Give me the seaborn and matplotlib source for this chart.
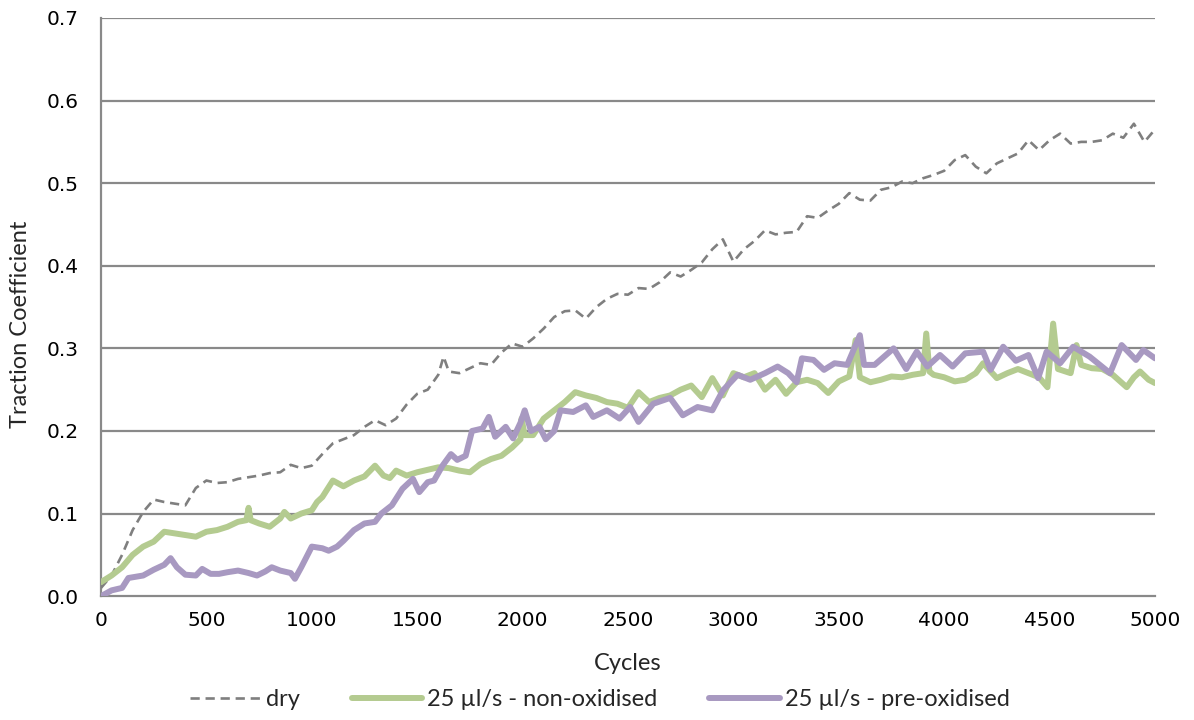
import matplotlib
matplotlib.use("Agg")
import matplotlib.pyplot as plt
from matplotlib.ticker import FormatStrFormatter, MultipleLocator
import pandas as pd
import seaborn as sns

# Traction coefficient vs. cycles for three rail-wheel test conditions
dry_cycles = [0, 50, 100, 150, 200, 250, 300, 350, 400, 450, 500, 550, 600, 650, 700,
              750, 800, 850, 900, 950, 1000, 1050, 1100, 1150, 1200, 1250, 1300, 1350,
              1400, 1450, 1500, 1550, 1600, 1625, 1650, 1700, 1750, 1800, 1850, 1900,
              1950, 2000, 2050, 2100, 2150, 2200, 2250, 2300, 2350, 2400, 2450, 2500,
              2550, 2600, 2650, 2700, 2750, 2800, 2850, 2900, 2950, 3000, 3050, 3100,
              3150, 3200, 3250, 3300, 3350, 3400, 3450, 3500, 3550, 3600, 3650, 3700,
              3750, 3800, 3850, 3900, 3950, 4000, 4050, 4100, 4150, 4200, 4250, 4300,
              4350, 4400, 4450, 4500, 4550, 4600, 4650, 4700, 4750, 4800, 4850, 4900,
              4950, 5000]
dry_tc = [0.010, 0.025, 0.050, 0.080, 0.102, 0.117, 0.114, 0.112, 0.110, 0.131, 0.140,
          0.137, 0.138, 0.142, 0.144, 0.146, 0.149, 0.150, 0.159, 0.155, 0.158, 0.172,
          0.185, 0.190, 0.195, 0.205, 0.213, 0.207, 0.215, 0.232, 0.245, 0.250, 0.268,
          0.290, 0.272, 0.270, 0.276, 0.282, 0.280, 0.295, 0.306, 0.302, 0.312, 0.324,
          0.338, 0.345, 0.346, 0.336, 0.350, 0.360, 0.366, 0.365, 0.373, 0.372, 0.380,
          0.392, 0.387, 0.395, 0.404, 0.420, 0.432, 0.405, 0.420, 0.430, 0.443, 0.438,
          0.440, 0.441, 0.460, 0.458, 0.467, 0.475, 0.488, 0.480, 0.479, 0.492, 0.495,
          0.502, 0.500, 0.506, 0.510, 0.515, 0.528, 0.534, 0.520, 0.512, 0.524, 0.530,
          0.536, 0.552, 0.540, 0.552, 0.560, 0.548, 0.550, 0.550, 0.552, 0.560, 0.555,
          0.572, 0.550, 0.565]

nonox_cycles = [0, 50, 100, 150, 200, 250, 300, 350, 400, 450, 500, 550, 600, 650, 690,
                700, 710, 750, 800, 850, 870, 900, 950, 1000, 1025, 1050, 1100, 1150,
                1200, 1250, 1300, 1340, 1370, 1400, 1450, 1500, 1550, 1600, 1650, 1700,
                1750, 1800, 1850, 1900, 1950, 1990, 1995, 2010, 2050, 2100, 2150, 2200,
                2250, 2300, 2350, 2400, 2450, 2500, 2550, 2600, 2650, 2700, 2750, 2800,
                2850, 2900, 2950, 3000, 3050, 3100, 3150, 3200, 3250, 3300, 3350, 3400,
                3450, 3500, 3550, 3580, 3600, 3650, 3700, 3750, 3800, 3850, 3900, 3915,
                3930, 3950, 4000, 4050, 4100, 4150, 4185, 4250, 4300, 4350, 4400, 4450,
                4490, 4517, 4540, 4600, 4628, 4650, 4700, 4750, 4800, 4866, 4900, 4929,
                4970, 5000]
nonox_tc = [0.017, 0.025, 0.035, 0.050, 0.060, 0.066, 0.078, 0.076, 0.074, 0.072, 0.078,
            0.080, 0.084, 0.090, 0.092, 0.107, 0.092, 0.088, 0.084, 0.094, 0.102, 0.094,
            0.100, 0.104, 0.114, 0.120, 0.140, 0.133, 0.140, 0.145, 0.158, 0.146, 0.143,
            0.152, 0.146, 0.150, 0.153, 0.156, 0.155, 0.152, 0.150, 0.160, 0.166, 0.170,
            0.180, 0.190, 0.215, 0.195, 0.195, 0.215, 0.225, 0.235, 0.247, 0.243, 0.240,
            0.235, 0.233, 0.228, 0.247, 0.235, 0.240, 0.243, 0.250, 0.255, 0.241, 0.264,
            0.243, 0.270, 0.265, 0.270, 0.250, 0.262, 0.245, 0.259, 0.262, 0.258, 0.246,
            0.260, 0.266, 0.310, 0.265, 0.259, 0.262, 0.266, 0.265, 0.268, 0.270, 0.318,
            0.272, 0.268, 0.265, 0.260, 0.262, 0.270, 0.282, 0.264, 0.270, 0.275, 0.270,
            0.265, 0.253, 0.330, 0.275, 0.270, 0.304, 0.280, 0.276, 0.275, 0.268, 0.253,
            0.265, 0.272, 0.262, 0.258]

preox_cycles = [0, 50, 100, 130, 200, 250, 300, 330, 360, 400, 450, 480, 520, 560, 600,
                650, 700, 740, 780, 810, 850, 900, 920, 950, 980, 1000, 1050, 1080, 1120,
                1150, 1200, 1250, 1300, 1330, 1380, 1430, 1480, 1510, 1550, 1580, 1620,
                1660, 1690, 1730, 1760, 1810, 1840, 1870, 1920, 1955, 1990, 2010, 2040,
                2080, 2110, 2150, 2180, 2240, 2300, 2335, 2400, 2460, 2510, 2550, 2620,
                2700, 2760, 2830, 2900, 2950, 3020, 3080, 3150, 3210, 3260, 3300, 3325,
                3380, 3430, 3480, 3540, 3600, 3620, 3670, 3760, 3820, 3870, 3920, 3980,
                4040, 4100, 4185, 4220, 4280, 4340, 4400, 4446, 4486, 4550, 4612, 4690,
                4787, 4842, 4910, 4945, 5000]
preox_tc = [0.000, 0.007, 0.010, 0.022, 0.025, 0.032, 0.038, 0.046, 0.035, 0.026, 0.025,
            0.033, 0.027, 0.027, 0.029, 0.031, 0.028, 0.025, 0.030, 0.035, 0.031, 0.028,
            0.021, 0.035, 0.050, 0.060, 0.058, 0.055, 0.060, 0.067, 0.080, 0.088, 0.090,
            0.100, 0.110, 0.130, 0.142, 0.126, 0.138, 0.140, 0.158, 0.172, 0.165, 0.170,
            0.200, 0.203, 0.217, 0.193, 0.205, 0.191, 0.210, 0.225, 0.200, 0.205, 0.190,
            0.200, 0.225, 0.223, 0.231, 0.217, 0.225, 0.215, 0.229, 0.211, 0.233, 0.240,
            0.219, 0.229, 0.225, 0.249, 0.268, 0.262, 0.270, 0.278, 0.270, 0.259, 0.288,
            0.286, 0.274, 0.282, 0.280, 0.316, 0.280, 0.280, 0.300, 0.275, 0.296, 0.278,
            0.292, 0.278, 0.294, 0.296, 0.274, 0.302, 0.285, 0.292, 0.264, 0.296, 0.282,
            0.302, 0.290, 0.270, 0.304, 0.286, 0.298, 0.288]

labels = ["dry", "25 µl/s - non-oxidised", "25 µl/s - pre-oxidised"]

df_dry = pd.DataFrame({"Cycles": dry_cycles, "Traction Coefficient": dry_tc})
df_non = pd.DataFrame({"Cycles": nonox_cycles, "Traction Coefficient": nonox_tc})
df_pre = pd.DataFrame({"Cycles": preox_cycles, "Traction Coefficient": preox_tc})

sns.set_theme(style="white")
plt.rcParams["font.family"] = ["DejaVu Sans"]

fig = plt.figure(figsize=(11.94, 7.2), dpi=100)
ax = fig.add_axes([0.0846, 0.172, 0.8827, 0.803])

grid_col = "#898989"
ax.set_axisbelow(True)
for v in [0.1, 0.2, 0.3, 0.4, 0.5, 0.6, 0.7]:
    ax.axhline(v, color=grid_col, lw=1.6, zorder=0)

sns.lineplot(data=df_dry, x="Cycles", y="Traction Coefficient", ax=ax,
             color="#7f7f7f", lw=1.9, label=labels[0], dashes=False,
             linestyle=(0, (3.5, 2.2)), zorder=3)
sns.lineplot(data=df_non, x="Cycles", y="Traction Coefficient", ax=ax,
             color="#b4cb90", lw=4.3, label=labels[1], zorder=4,
             solid_joinstyle="round", solid_capstyle="round")
sns.lineplot(data=df_pre, x="Cycles", y="Traction Coefficient", ax=ax,
             color="#a899c1", lw=4.3, label=labels[2], zorder=5,
             solid_joinstyle="round", solid_capstyle="round")

ax.set_xlim(0, 5000)
ax.set_ylim(0, 0.7)
ax.xaxis.set_major_locator(MultipleLocator(500))
ax.yaxis.set_major_locator(MultipleLocator(0.1))
ax.yaxis.set_major_formatter(FormatStrFormatter("%.1f"))

for side in ["top", "right"]:
    ax.spines[side].set_visible(False)
for side in ["left", "bottom"]:
    ax.spines[side].set_color(grid_col)
    ax.spines[side].set_linewidth(1.6)

ax.tick_params(axis="both", which="major", direction="out", length=6, width=1.4,
               color=grid_col, labelsize=14.5, labelcolor="black")
ax.tick_params(axis="x", pad=5)
ax.tick_params(axis="y", pad=10)

label_font = {"family": "Lato", "size": 17}
ax.set_xlabel("Cycles", fontdict=label_font)
ax.set_ylabel("Traction Coefficient", fontdict=label_font)
ax.xaxis.set_label_coords(0.5, -0.098)
ax.yaxis.set_label_coords(-0.066, 0.47)

handles, labs = ax.get_legend_handles_labels()
ax.get_legend().remove()
fig.legend(handles, labs, loc="center", bbox_to_anchor=(600 / 1194, 1 - 700 / 720),
           ncol=3, frameon=False, prop={"family": "Lato", "size": 17},
           handlelength=3.0, columnspacing=2.2, handletextpad=0.2)

fig.savefig("out.png", dpi=100)
